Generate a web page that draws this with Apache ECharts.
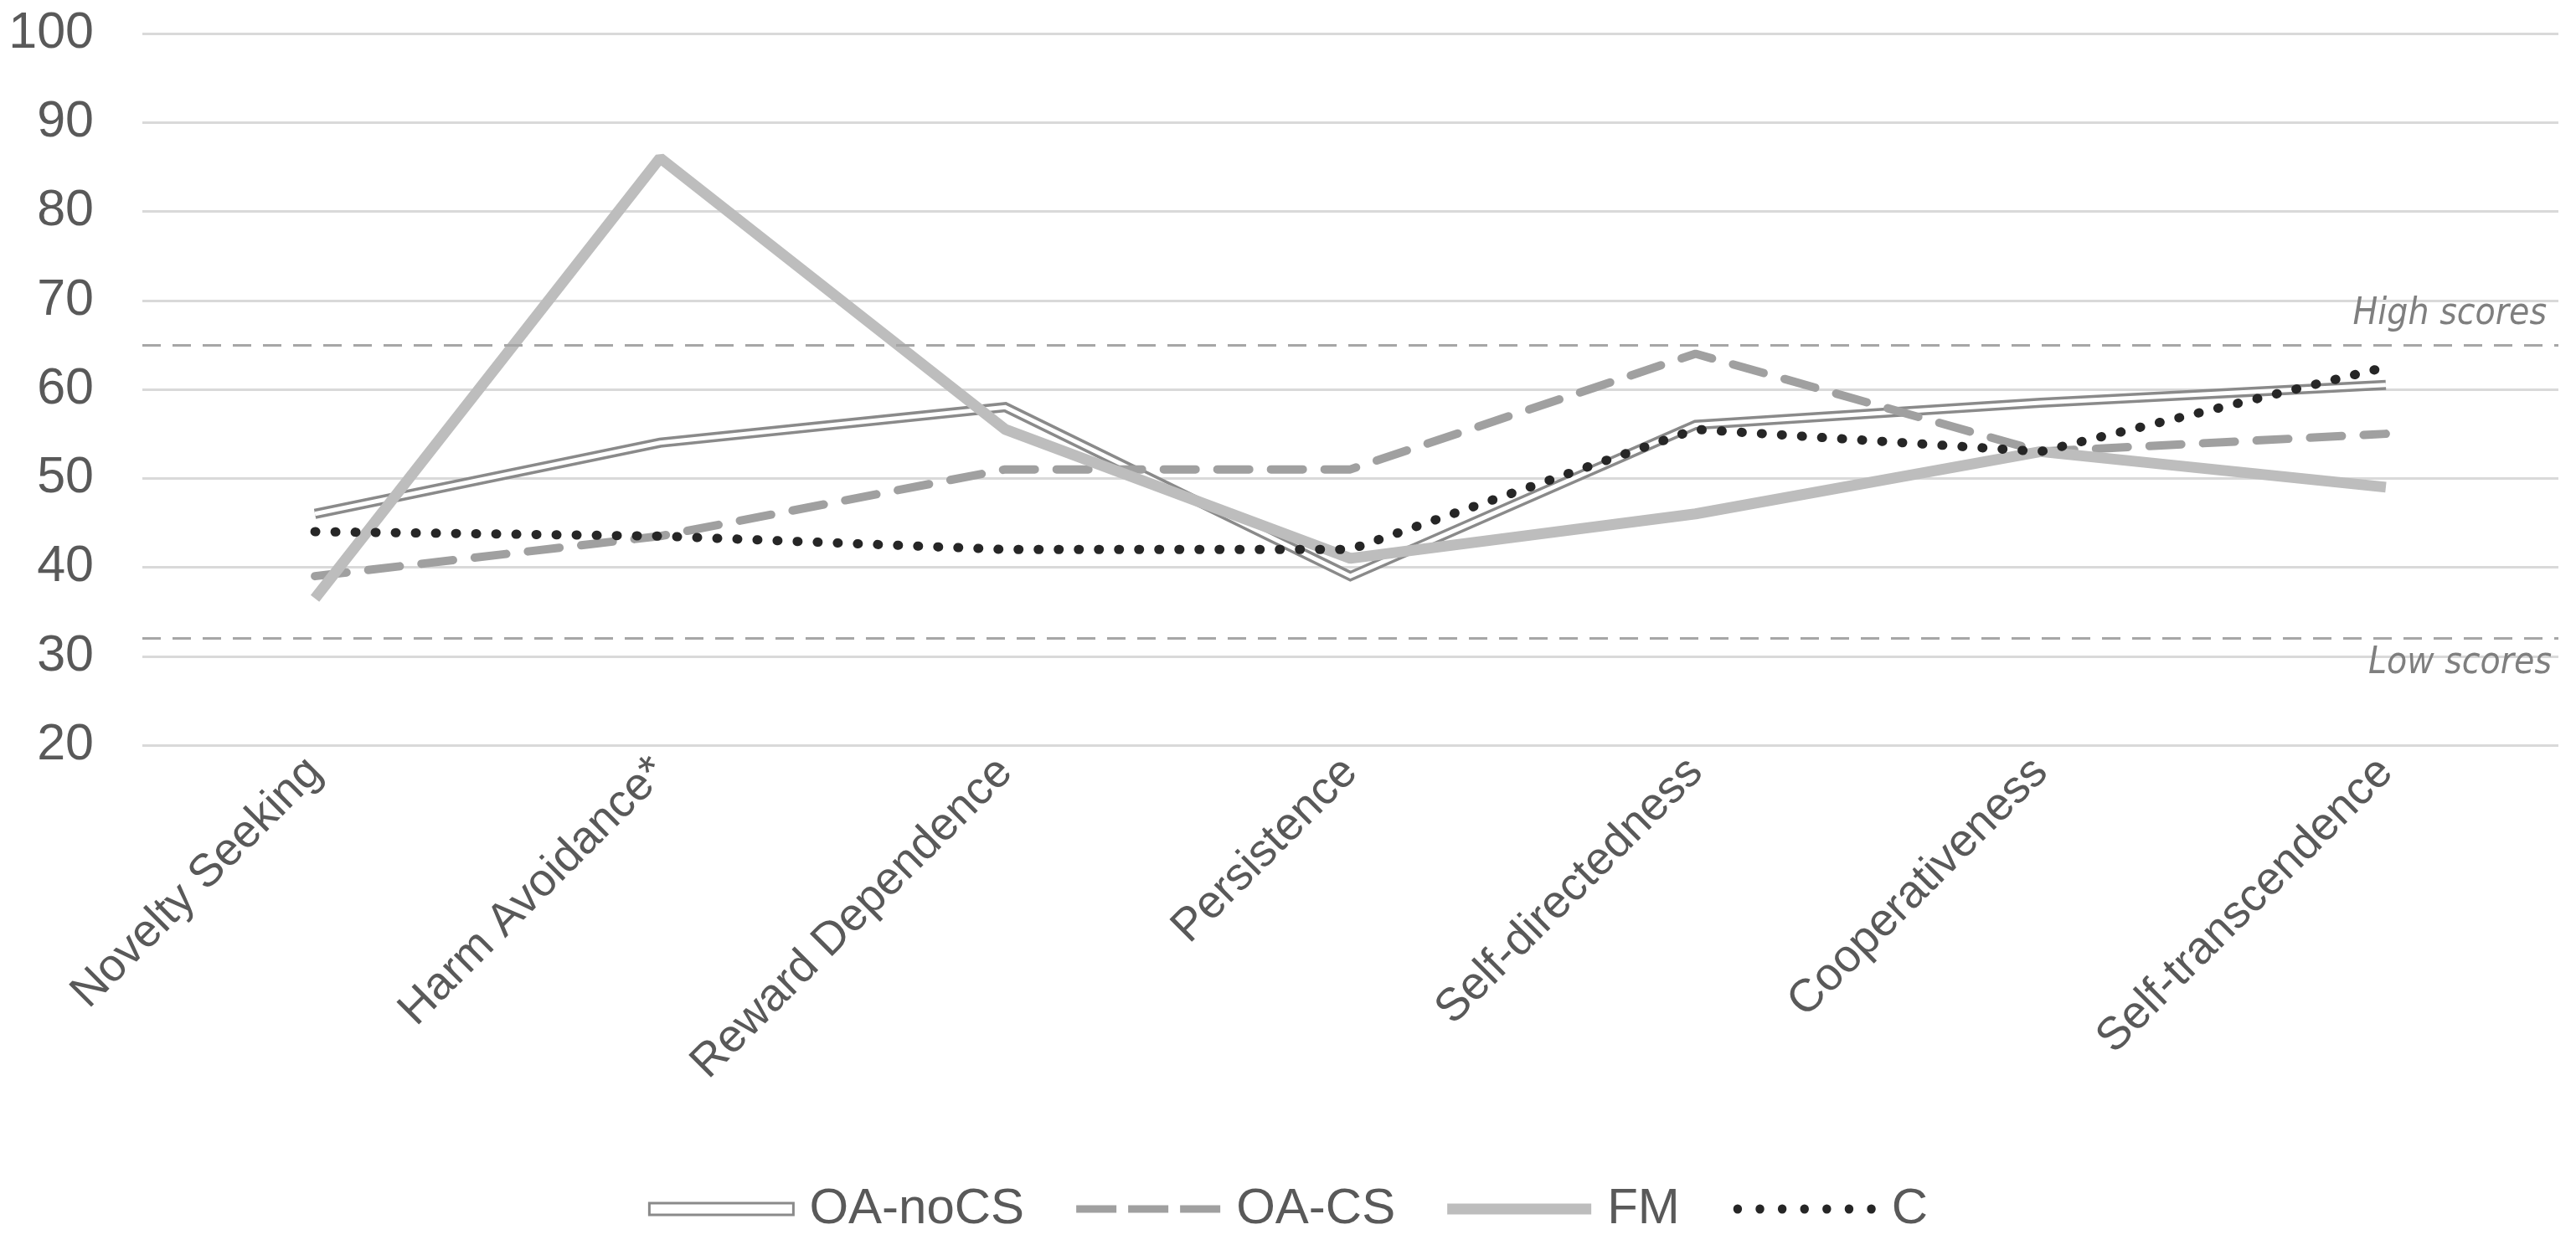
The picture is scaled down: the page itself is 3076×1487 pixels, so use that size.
<!DOCTYPE html>
<html>
<head>
<meta charset="utf-8">
<script src="https://cdn.jsdelivr.net/npm/echarts@6/dist/echarts.min.js"></script>
<style>
html,body{margin:0;padding:0;background:#fff;}
#chart{width:3076px;height:1487px;}
</style>
</head>
<body>
<div id="chart"></div>
<script>
const categories = ['Novelty Seeking','Harm Avoidance*','Reward Dependence','Persistence','Self-directedness','Cooperativeness','Self-transcendence'];
const oaNoCS = [46, 54, 58, 39, 56, 58.5, 60.5];
const oaCS   = [39, 43.5, 51, 51, 64, 53, 55];
const fm     = [36.5, 86, 55.5, 41, 46, 53, 49];
const c      = [44, 43.5, 42, 42, 55.5, 53, 62.5];
const yTicks = {min: 20, max: 100, interval: 10};
const highScore = 65;
const lowScore = 32;

const FONT = '"Liberation Sans", Arial, sans-serif';
const NARROW = '"Liberation Sans Narrow", "DejaVu Sans Condensed", sans-serif';

// legend icon shapes (172 x 14 box)
function dotsPath() {
  let p = 'path://M0,0 L0,0 M172,14 L172,14 ';
  for (let i = 0; i < 7; i++) {
    const x = 2 + i * 28;
    p += 'M' + x + ',7 a5.5,5.5 0 1,0 11,0 a5.5,5.5 0 1,0 -11,0 ';
  }
  return p;
}
const iconDouble = 'path://M1,1 L171,1 L171,12 L1,12 Z';
const iconDash = 'path://M0,0 L0,0 M172,14 L172,14 M0,2.5 L48,2.5 L48,11.5 L0,11.5 Z M62,2.5 L110,2.5 L110,11.5 L62,11.5 Z M124,2.5 L172,2.5 L172,11.5 L124,11.5 Z';
const iconSolid = 'path://M0,0 L0,0 M172,14 L172,14 M0,0.5 L172,0.5 L172,13.5 L0,13.5 Z';

const chart = echarts.init(document.getElementById('chart'), null, {renderer: 'canvas'});
chart.setOption({
  backgroundColor: '#ffffff',
  animation: false,
  grid: {left: 170, right: 21, top: 40, bottom: 597, containLabel: false},
  legend: {
    bottom: 8,
    left: 'center',
    itemWidth: 172,
    itemHeight: 14,
    itemGap: 62,
    symbolKeepAspect: false,
    textStyle: {fontFamily: FONT, fontSize: 60, color: '#595959', padding: [0, 0, 0, 14]},
    data: [
      {name: 'OA-noCS', icon: iconDouble,
       itemStyle: {color: '#ffffff', borderColor: '#8a8a8a', borderWidth: 3}},
      {name: 'OA-CS', icon: iconDash, itemStyle: {color: '#a0a0a0', borderWidth: 0}},
      {name: 'FM', icon: iconSolid, itemStyle: {color: '#bdbdbd', borderWidth: 0},
       textStyle: {padding: [0, 54, 0, 14]}},
      {name: 'C', icon: dotsPath(), itemStyle: {color: '#262626', borderWidth: 0}}
    ]
  },
  xAxis: {
    type: 'category',
    data: categories,
    boundaryGap: true,
    axisLine: {show: false},
    axisTick: {show: false},
    axisLabel: {rotate: 45, margin: 24, fontFamily: FONT, fontSize: 55, color: '#595959', interval: 0}
  },
  yAxis: {
    type: 'value',
    min: yTicks.min, max: yTicks.max, interval: yTicks.interval,
    axisLine: {show: false},
    axisTick: {show: false},
    axisLabel: {margin: 58, fontFamily: FONT, fontSize: 61, color: '#595959'},
    splitLine: {lineStyle: {color: '#d9d9d9', width: 3}}
  },
  series: [
    {
      name: 'OA-noCS', type: 'line', data: oaNoCS, symbol: 'none',
      lineStyle: {color: '#8a8a8a', width: 12, cap: 'butt', join: 'miter'},
      itemStyle: {color: '#8a8a8a'},
      markLine: {
        silent: true, symbol: 'none',
        lineStyle: {color: '#a6a6a6', width: 3, type: [22, 14]},
        label: {fontFamily: NARROW, fontStyle: 'italic', fontSize: 44, color: '#7f7f7f'},
        data: [
          {yAxis: highScore, label: {formatter: 'High scores', position: 'insideEndTop', distance: 14}},
          {yAxis: lowScore, label: {formatter: 'Low scores', position: 'insideEndBottom', distance: 8}}
        ]
      }
    },
    {
      name: 'OA-noCS', type: 'line', data: oaNoCS, symbol: 'none',
      lineStyle: {color: '#ffffff', width: 5, join: 'miter'},
      itemStyle: {color: '#ffffff'}
    },
    {
      name: 'OA-CS', type: 'line', data: oaCS, symbol: 'none',
      lineStyle: {color: '#a0a0a0', width: 10, type: [38, 26], cap: 'round'},
      itemStyle: {color: '#a0a0a0'}
    },
    {
      name: 'FM', type: 'line', data: fm, symbol: 'none',
      lineStyle: {color: '#bdbdbd', width: 13, cap: 'butt'},
      itemStyle: {color: '#bdbdbd'}
    },
    {
      name: 'C', type: 'line', data: c, symbol: 'none',
      lineStyle: {color: '#262626', width: 11, type: [1, 23], cap: 'round'},
      itemStyle: {color: '#262626'}
    }
  ]
});
</script>
</body>
</html>
